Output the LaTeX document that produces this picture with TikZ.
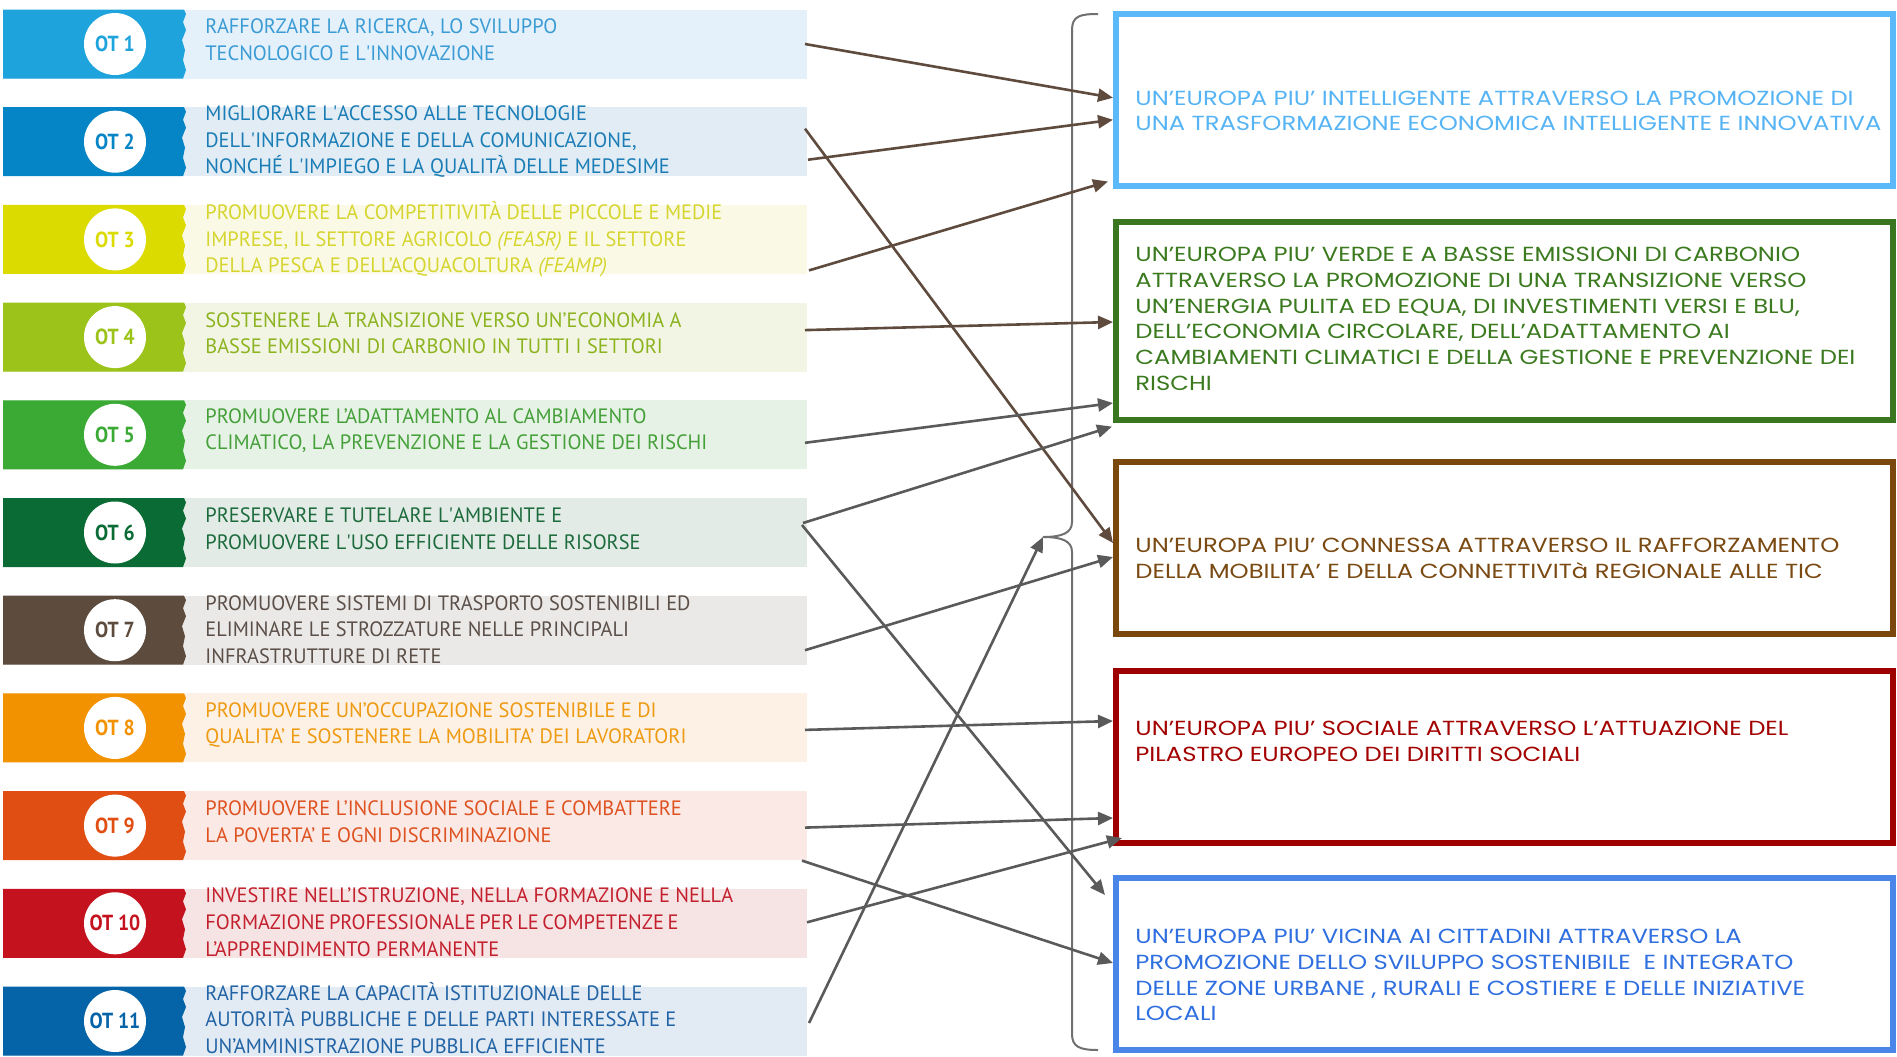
\documentclass[tikz,border=0pt]{standalone}
\usepackage{fontspec}
\usetikzlibrary{arrows.meta,calc}
\newfontfamily\ltfont[FakeStretch=0.98]{PT Sans}
\newfontfamily\otfontf[FakeStretch=0.9]{PT Sans}
\newfontfamily\rtfont[FakeStretch=1.19]{Poppins}
\newlength\otlen
% tab colours
\definecolor{d1}{HTML}{1FA3DD}\definecolor{l1}{HTML}{E4F1FA}\definecolor{t1}{HTML}{3A9BD5}
\definecolor{d2}{HTML}{0585C5}\definecolor{l2}{HTML}{E1ECF5}\definecolor{t2}{HTML}{1B7DB5}
\definecolor{d3}{HTML}{DCDB00}\definecolor{l3}{HTML}{F9F9E6}\definecolor{t3}{HTML}{D6D530}
\definecolor{d4}{HTML}{9BC31A}\definecolor{l4}{HTML}{F2F5E3}\definecolor{t4}{HTML}{8CB320}
\definecolor{d5}{HTML}{3AAA35}\definecolor{l5}{HTML}{E7F2E6}\definecolor{t5}{HTML}{45A03A}
\definecolor{d6}{HTML}{0B6B34}\definecolor{l6}{HTML}{E2EBE6}\definecolor{t6}{HTML}{1D6B3C}
\definecolor{d7}{HTML}{5D4B3E}\definecolor{l7}{HTML}{EAE9E8}\definecolor{t7}{HTML}{5B4F48}
\definecolor{d8}{HTML}{F39200}\definecolor{l8}{HTML}{FCF1E4}\definecolor{t8}{HTML}{EE9A12}
\definecolor{d9}{HTML}{E04E14}\definecolor{l9}{HTML}{FAE9E4}\definecolor{t9}{HTML}{DE5222}
\definecolor{d10}{HTML}{C4131E}\definecolor{l10}{HTML}{F6E3E4}\definecolor{t10}{HTML}{C3202E}
\definecolor{d11}{HTML}{0563A8}\definecolor{l11}{HTML}{E2EAF3}\definecolor{t11}{HTML}{2163A5}
% goal colours
\definecolor{g1}{HTML}{5BB8F9}\definecolor{gt1}{HTML}{56B4F5}
\definecolor{g2}{HTML}{3A7520}\definecolor{gt2}{HTML}{3B7A1F}
\definecolor{g3}{HTML}{7A470D}\definecolor{gt3}{HTML}{7A4A12}
\definecolor{g4}{HTML}{9E0000}\definecolor{gt4}{HTML}{A30000}
\definecolor{g5}{HTML}{4A86E8}\definecolor{gt5}{HTML}{2F6FE0}
\definecolor{arrbrown}{HTML}{5F4B3E}
\definecolor{arrgray}{HTML}{5A5A5A}
\definecolor{bracegray}{HTML}{707070}
\begin{document}
\begin{tikzpicture}[x=0.5pt,y=-0.5pt,
  band/.style={minimum width=402pt, minimum height=34.5pt, inner sep=0, outer sep=0},
  otcirc/.style={circle, fill=white, minimum size=31pt, inner sep=0, font=\otfontf\bfseries\fontsize{10.9}{12}\selectfont},
  lt/.style={anchor=west, inner sep=0, align=left, font=\ltfont\fontsize{10.4}{13.3}\selectfont},
  goal/.style={draw, line width=3pt, minimum width=388.5pt, inner sep=0, fill=white},
  rt/.style={anchor=west, inner sep=0, align=left, font=\rtfont\fontsize{10.2}{12.85}\selectfont},
  arrB/.style={draw=arrbrown, line width=1.3pt, -{Triangle[length=7.5pt,width=6.5pt]}},
  arrG/.style={draw=arrgray, line width=1.3pt, -{Triangle[length=7.5pt,width=6.5pt]}}]
\useasboundingbox (0,0) rectangle (1897,1056);

% ---- left bands
\foreach \i in {1,...,11} {
  \pgfmathsetmacro\c{44+97.7*(\i-1)}
  \node[band, fill=l\i] (ot\i) at (405,\c) {};
  \fill[d\i] (3,\c-34.5) -- (184,\c-34.5) -- (186,\c-30) -- (183,\c-22) -- (186,\c-14)
     -- (182,\c-4) -- (185,\c+6) -- (183,\c+16) -- (186,\c+26) -- (183,\c+34.5) -- (3,\c+34.5) -- cycle;
  \node[otcirc, text=d\i] (c\i) at (115,\c) {OT \i};
}

\node[lt, text=t1] (tx1) at (205,40) {RAFFORZARE LA RICERCA, LO SVILUPPO\\TECNOLOGICO E L\textquotesingle INNOVAZIONE};
\node[lt, text=t2] (tx2) at (205,141.7) {MIGLIORARE L\textquotesingle ACCESSO ALLE TECNOLOGIE\\DELL\textquotesingle INFORMAZIONE E DELLA COMUNICAZIONE,\\NONCHÉ L\textquotesingle IMPIEGO E LA QUALITÀ DELLE MEDESIME};
\node[lt, text=t3] (tx3) at (205,239.4) {PROMUOVERE LA COMPETITIVITÀ DELLE PICCOLE E MEDIE\\IMPRESE, IL SETTORE AGRICOLO \textit{(FEASR)} E IL SETTORE\\DELLA PESCA E DELL’ACQUACOLTURA \textit{(FEAMP)}};
\node[lt, text=t4] (tx4) at (205,333.1) {SOSTENERE LA TRANSIZIONE VERSO UN’ECONOMIA A\\BASSE EMISSIONI DI CARBONIO IN TUTTI I SETTORI};
\node[lt, text=t5] (tx5) at (205,430.8) {PROMUOVERE L’ADATTAMENTO AL CAMBIAMENTO\\CLIMATICO, LA PREVENZIONE E LA GESTIONE DEI RISCHI};
\node[lt, text=t6] (tx6) at (205,528.5) {PRESERVARE E TUTELARE L\textquotesingle AMBIENTE E\\PROMUOVERE L\textquotesingle USO EFFICIENTE DELLE RISORSE};
\node[lt, text=t7] (tx7) at (205,629.7) {PROMUOVERE SISTEMI DI TRASPORTO SOSTENIBILI ED\\ELIMINARE LE STROZZATURE NELLE PRINCIPALI\\INFRASTRUTTURE DI RETE};
\node[lt, text=t8] (tx8) at (205,724.9) {PROMUOVERE UN’OCCUPAZIONE SOSTENIBILE E DI\\QUALITA’ E SOSTENERE LA MOBILITA’ DEI LAVORATORI};
\node[lt, text=t9] (tx9) at (205,821.6) {PROMUOVERE L’INCLUSIONE SOCIALE E COMBATTERE\\LA POVERTA’ E OGNI DISCRIMINAZIONE};
\settowidth{\otlen}{\ltfont\fontsize{10.4}{13.3}\selectfont INVESTIRE NELL’ISTRUZIONE, NELLA FORMAZIONE E NELLA}
\node[lt, text=t10] (tx10) at (205,922.3) {INVESTIRE NELL’ISTRUZIONE, NELLA FORMAZIONE E NELLA\\\makebox[\otlen][s]{FORMAZIONE PROFESSIONALE PER LE COMPETENZE E}\\L’APPRENDIMENTO PERMANENTE};
\node[lt, text=t11] (tx11) at (205,1018) {RAFFORZARE LA CAPACITÀ ISTITUZIONALE DELLE\\AUTORITÀ PUBBLICHE E DELLE PARTI INTERESSATE E\\UN’AMMINISTRAZIONE PUBBLICA EFFICIENTE};

% ---- goal boxes
\node[goal, draw=g1, minimum height=85.75pt] (b1) at (1504.5,99.75) {};
\node[goal, draw=g2, minimum height=98.6pt] (b2) at (1504.5,321) {};
\node[goal, draw=g3, minimum height=86pt] (b3) at (1504.5,548) {};
\node[goal, draw=g4, minimum height=86pt] (b4) at (1504.5,757) {};
\node[goal, draw=g5, minimum height=86pt] (b5) at (1504.5,964) {};

\node[rt, text=gt1] (bt1) at (1135,111) {UN’EUROPA PIU’ INTELLIGENTE ATTRAVERSO LA PROMOZIONE DI\\UNA TRASFORMAZIONE ECONOMICA INTELLIGENTE E INNOVATIVA};
\node[rt, text=gt2] (bt2) at (1135,319) {UN’EUROPA PIU’ VERDE E A BASSE EMISSIONI DI CARBONIO\\ATTRAVERSO LA PROMOZIONE DI UNA TRANSIZIONE VERSO\\UN’ENERGIA PULITA ED EQUA, DI INVESTIMENTI VERSI E BLU,\\DELL’ECONOMIA CIRCOLARE, DELL’ADATTAMENTO AI\\CAMBIAMENTI CLIMATICI E DELLA GESTIONE E PREVENZIONE DEI\\RISCHI};
\node[rt, text=gt3] (bt3) at (1135,558.5) {UN’EUROPA PIU’ CONNESSA ATTRAVERSO IL RAFFORZAMENTO\\DELLA MOBILITA’ E DELLA CONNETTIVITà REGIONALE ALLE TIC};
\node[rt, text=gt4] (bt4) at (1135,741.5) {UN’EUROPA PIU’ SOCIALE ATTRAVERSO L’ATTUAZIONE DEL\\PILASTRO EUROPEO DEI DIRITTI SOCIALI};
\node[rt, text=gt5] (bt5) at (1135,975.3) {UN’EUROPA PIU’ VICINA AI CITTADINI ATTRAVERSO LA\\PROMOZIONE DELLO SVILUPPO SOSTENIBILE \ E INTEGRATO\\DELLE ZONE URBANE , RURALI E COSTIERE E DELLE INIZIATIVE\\LOCALI};

% ---- brace
\coordinate (tip) at (1043,537);
\draw[bracegray, line width=1pt] (1098,14) .. controls (1080,14) and (1072,16) .. (1072,30)
  -- (1072,522) .. controls (1072,533) and (1062,537) .. (tip)
  .. controls (1062,537) and (1072,541) .. (1072,552)
  -- (1072,1034) .. controls (1072,1047) and (1080,1050) .. (1098,1050);

% ---- arrows
\draw[arrB] ($(ot1.east)+(-2,0)$) -- ($(b1.west)+(0,-2)$);
\draw[arrB] ($(ot2.east)+(1,18)$) -- ($(b1.west)+(0,20)$);
\draw[arrB] ($(ot2.east)+(-2,-13)$) -- ($(b3.west)+(0,-5)$);
\draw[arrB] ($(ot3.east)+(2,31)$) -- ($(b1.south west)+(-5,-7)$);
\draw[arrB] ($(ot4.east)+(-2,-7)$) -- ($(b2.west)+(0,1)$);
\draw[arrG] ($(ot5.east)+(-2,8)$) -- ($(b2.west)+(0,82)$);
\draw[arrG] ($(ot6.east)+(-4,-9.5)$) -- ($(b2.south west)+(-1,4)$);
\draw[arrG] ($(ot6.east)+(-5,-7.5)$) -- ($(b5.north west)+(-8,20)$);
\draw[arrG] ($(ot7.east)+(-2,20)$) -- ($(b3.west)+(0,9)$);
\draw[arrG] ($(ot8.east)+(-2,2)$) -- ($(b4.west)+(0,-36)$);
\draw[arrG] ($(ot9.east)+(-2,2)$) -- ($(b4.west)+(0,61)$);
\draw[arrG] ($(ot9.east)+(-5,35)$) -- ($(b5.west)+(0,-1)$);
\draw[arrG] ($(ot10.east)+(0,-1)$) -- ($(b4.south west)+(9,-8)$);
\draw[arrG] ($(ot11.east)+(2,2)$) -- (tip);
\end{tikzpicture}
\end{document}
